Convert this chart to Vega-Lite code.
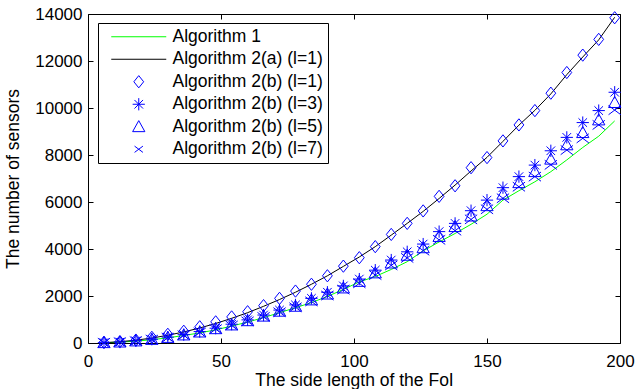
{
  "$schema": "https://vega.github.io/schema/vega-lite/v6.json",
  "width": 532,
  "height": 329,
  "autosize": {"type": "none"},
  "padding": {"left": 88, "top": 14, "right": 16, "bottom": 46},
  "background": "white",
  "config": {
    "view": {"stroke": "black", "strokeWidth": 1},
    "font": "Liberation Sans",
    "axis": {
      "domain": false,
      "grid": false,
      "tickColor": "black",
      "tickWidth": 1,
      "tickSize": -5,
      "labelFlush": false,
      "labelFont": "Liberation Sans",
      "labelFontSize": 17,
      "labelColor": "black",
      "titleFont": "Liberation Sans",
      "titleFontSize": 17.5,
      "titleFontWeight": "normal",
      "titleColor": "black"
    },
    "legend": {
      "labelFont": "Liberation Sans",
      "labelFontSize": 17.5,
      "labelColor": "black"
    }
  },
  "data": {
    "values": [
      {"s":"Algorithm 1","x":6,"y":10},{"s":"Algorithm 1","x":12,"y":35},{"s":"Algorithm 1","x":18,"y":80},{"s":"Algorithm 1","x":24,"y":140},{"s":"Algorithm 1","x":30,"y":220},{"s":"Algorithm 1","x":36,"y":320},{"s":"Algorithm 1","x":42,"y":430},{"s":"Algorithm 1","x":48,"y":560},{"s":"Algorithm 1","x":54,"y":720},{"s":"Algorithm 1","x":60,"y":890},{"s":"Algorithm 1","x":66,"y":1080},{"s":"Algorithm 1","x":72,"y":1290},{"s":"Algorithm 1","x":78,"y":1500},{"s":"Algorithm 1","x":84,"y":1720},{"s":"Algorithm 1","x":90,"y":1980},{"s":"Algorithm 1","x":96,"y":2280},{"s":"Algorithm 1","x":102,"y":2600},{"s":"Algorithm 1","x":108,"y":2830},{"s":"Algorithm 1","x":114,"y":3130},{"s":"Algorithm 1","x":120,"y":3460},{"s":"Algorithm 1","x":126,"y":3920},{"s":"Algorithm 1","x":132,"y":4300},{"s":"Algorithm 1","x":138,"y":4660},{"s":"Algorithm 1","x":144,"y":5050},{"s":"Algorithm 1","x":150,"y":5480},{"s":"Algorithm 1","x":156,"y":6080},{"s":"Algorithm 1","x":162,"y":6480},{"s":"Algorithm 1","x":168,"y":6860},{"s":"Algorithm 1","x":174,"y":7290},{"s":"Algorithm 1","x":180,"y":7790},{"s":"Algorithm 1","x":186,"y":8320},{"s":"Algorithm 1","x":192,"y":8800},{"s":"Algorithm 1","x":198,"y":9450},
      {"s":"Algorithm 2(a) (l=1)","x":6,"y":15},{"s":"Algorithm 2(a) (l=1)","x":12,"y":55},{"s":"Algorithm 2(a) (l=1)","x":18,"y":120},{"s":"Algorithm 2(a) (l=1)","x":24,"y":210},{"s":"Algorithm 2(a) (l=1)","x":30,"y":330},{"s":"Algorithm 2(a) (l=1)","x":36,"y":470},{"s":"Algorithm 2(a) (l=1)","x":42,"y":640},{"s":"Algorithm 2(a) (l=1)","x":48,"y":830},{"s":"Algorithm 2(a) (l=1)","x":54,"y":1050},{"s":"Algorithm 2(a) (l=1)","x":60,"y":1290},{"s":"Algorithm 2(a) (l=1)","x":66,"y":1560},{"s":"Algorithm 2(a) (l=1)","x":72,"y":1850},{"s":"Algorithm 2(a) (l=1)","x":78,"y":2160},{"s":"Algorithm 2(a) (l=1)","x":84,"y":2500},{"s":"Algorithm 2(a) (l=1)","x":90,"y":2860},{"s":"Algorithm 2(a) (l=1)","x":96,"y":3260},{"s":"Algorithm 2(a) (l=1)","x":102,"y":3660},{"s":"Algorithm 2(a) (l=1)","x":108,"y":4100},{"s":"Algorithm 2(a) (l=1)","x":114,"y":4590},{"s":"Algorithm 2(a) (l=1)","x":120,"y":5090},{"s":"Algorithm 2(a) (l=1)","x":126,"y":5600},{"s":"Algorithm 2(a) (l=1)","x":132,"y":6150},{"s":"Algorithm 2(a) (l=1)","x":138,"y":6720},{"s":"Algorithm 2(a) (l=1)","x":144,"y":7320},{"s":"Algorithm 2(a) (l=1)","x":150,"y":7900},{"s":"Algorithm 2(a) (l=1)","x":156,"y":8580},{"s":"Algorithm 2(a) (l=1)","x":162,"y":9270},{"s":"Algorithm 2(a) (l=1)","x":168,"y":9900},{"s":"Algorithm 2(a) (l=1)","x":174,"y":10600},{"s":"Algorithm 2(a) (l=1)","x":180,"y":11420},{"s":"Algorithm 2(a) (l=1)","x":186,"y":12170},{"s":"Algorithm 2(a) (l=1)","x":192,"y":12900},{"s":"Algorithm 2(a) (l=1)","x":198,"y":13860},
      {"s":"Algorithm 2(b) (l=1)","x":6,"y":30},{"s":"Algorithm 2(b) (l=1)","x":12,"y":60},{"s":"Algorithm 2(b) (l=1)","x":18,"y":125},{"s":"Algorithm 2(b) (l=1)","x":24,"y":240},{"s":"Algorithm 2(b) (l=1)","x":30,"y":370},{"s":"Algorithm 2(b) (l=1)","x":36,"y":500},{"s":"Algorithm 2(b) (l=1)","x":42,"y":690},{"s":"Algorithm 2(b) (l=1)","x":48,"y":900},{"s":"Algorithm 2(b) (l=1)","x":54,"y":1110},{"s":"Algorithm 2(b) (l=1)","x":60,"y":1330},{"s":"Algorithm 2(b) (l=1)","x":66,"y":1590},{"s":"Algorithm 2(b) (l=1)","x":72,"y":1900},{"s":"Algorithm 2(b) (l=1)","x":78,"y":2210},{"s":"Algorithm 2(b) (l=1)","x":84,"y":2500},{"s":"Algorithm 2(b) (l=1)","x":90,"y":2860},{"s":"Algorithm 2(b) (l=1)","x":96,"y":3270},{"s":"Algorithm 2(b) (l=1)","x":102,"y":3630},{"s":"Algorithm 2(b) (l=1)","x":108,"y":4100},{"s":"Algorithm 2(b) (l=1)","x":114,"y":4620},{"s":"Algorithm 2(b) (l=1)","x":120,"y":5090},{"s":"Algorithm 2(b) (l=1)","x":126,"y":5620},{"s":"Algorithm 2(b) (l=1)","x":132,"y":6240},{"s":"Algorithm 2(b) (l=1)","x":138,"y":6690},{"s":"Algorithm 2(b) (l=1)","x":144,"y":7460},{"s":"Algorithm 2(b) (l=1)","x":150,"y":7890},{"s":"Algorithm 2(b) (l=1)","x":156,"y":8600},{"s":"Algorithm 2(b) (l=1)","x":162,"y":9280},{"s":"Algorithm 2(b) (l=1)","x":168,"y":9890},{"s":"Algorithm 2(b) (l=1)","x":174,"y":10630},{"s":"Algorithm 2(b) (l=1)","x":180,"y":11510},{"s":"Algorithm 2(b) (l=1)","x":186,"y":12250},{"s":"Algorithm 2(b) (l=1)","x":192,"y":12920},{"s":"Algorithm 2(b) (l=1)","x":198,"y":13840},
      {"s":"Algorithm 2(b) (l=3)","x":6,"y":15},{"s":"Algorithm 2(b) (l=3)","x":12,"y":40},{"s":"Algorithm 2(b) (l=3)","x":18,"y":90},{"s":"Algorithm 2(b) (l=3)","x":24,"y":160},{"s":"Algorithm 2(b) (l=3)","x":30,"y":250},{"s":"Algorithm 2(b) (l=3)","x":36,"y":355},{"s":"Algorithm 2(b) (l=3)","x":42,"y":485},{"s":"Algorithm 2(b) (l=3)","x":48,"y":630},{"s":"Algorithm 2(b) (l=3)","x":54,"y":800},{"s":"Algorithm 2(b) (l=3)","x":60,"y":985},{"s":"Algorithm 2(b) (l=3)","x":66,"y":1190},{"s":"Algorithm 2(b) (l=3)","x":72,"y":1400},{"s":"Algorithm 2(b) (l=3)","x":78,"y":1620},{"s":"Algorithm 2(b) (l=3)","x":84,"y":1900},{"s":"Algorithm 2(b) (l=3)","x":90,"y":2160},{"s":"Algorithm 2(b) (l=3)","x":96,"y":2430},{"s":"Algorithm 2(b) (l=3)","x":102,"y":2720},{"s":"Algorithm 2(b) (l=3)","x":108,"y":3100},{"s":"Algorithm 2(b) (l=3)","x":114,"y":3530},{"s":"Algorithm 2(b) (l=3)","x":120,"y":3880},{"s":"Algorithm 2(b) (l=3)","x":126,"y":4210},{"s":"Algorithm 2(b) (l=3)","x":132,"y":4740},{"s":"Algorithm 2(b) (l=3)","x":138,"y":5090},{"s":"Algorithm 2(b) (l=3)","x":144,"y":5630},{"s":"Algorithm 2(b) (l=3)","x":150,"y":6080},{"s":"Algorithm 2(b) (l=3)","x":156,"y":6610},{"s":"Algorithm 2(b) (l=3)","x":162,"y":7080},{"s":"Algorithm 2(b) (l=3)","x":168,"y":7570},{"s":"Algorithm 2(b) (l=3)","x":174,"y":8180},{"s":"Algorithm 2(b) (l=3)","x":180,"y":8750},{"s":"Algorithm 2(b) (l=3)","x":186,"y":9380},{"s":"Algorithm 2(b) (l=3)","x":192,"y":9890},{"s":"Algorithm 2(b) (l=3)","x":198,"y":10670},
      {"s":"Algorithm 2(b) (l=5)","x":6,"y":12},{"s":"Algorithm 2(b) (l=5)","x":12,"y":38},{"s":"Algorithm 2(b) (l=5)","x":18,"y":85},{"s":"Algorithm 2(b) (l=5)","x":24,"y":150},{"s":"Algorithm 2(b) (l=5)","x":30,"y":235},{"s":"Algorithm 2(b) (l=5)","x":36,"y":340},{"s":"Algorithm 2(b) (l=5)","x":42,"y":465},{"s":"Algorithm 2(b) (l=5)","x":48,"y":605},{"s":"Algorithm 2(b) (l=5)","x":54,"y":765},{"s":"Algorithm 2(b) (l=5)","x":60,"y":945},{"s":"Algorithm 2(b) (l=5)","x":66,"y":1140},{"s":"Algorithm 2(b) (l=5)","x":72,"y":1350},{"s":"Algorithm 2(b) (l=5)","x":78,"y":1560},{"s":"Algorithm 2(b) (l=5)","x":84,"y":1830},{"s":"Algorithm 2(b) (l=5)","x":90,"y":2080},{"s":"Algorithm 2(b) (l=5)","x":96,"y":2340},{"s":"Algorithm 2(b) (l=5)","x":102,"y":2620},{"s":"Algorithm 2(b) (l=5)","x":108,"y":2980},{"s":"Algorithm 2(b) (l=5)","x":114,"y":3400},{"s":"Algorithm 2(b) (l=5)","x":120,"y":3730},{"s":"Algorithm 2(b) (l=5)","x":126,"y":4050},{"s":"Algorithm 2(b) (l=5)","x":132,"y":4530},{"s":"Algorithm 2(b) (l=5)","x":138,"y":4950},{"s":"Algorithm 2(b) (l=5)","x":144,"y":5400},{"s":"Algorithm 2(b) (l=5)","x":150,"y":5840},{"s":"Algorithm 2(b) (l=5)","x":156,"y":6330},{"s":"Algorithm 2(b) (l=5)","x":162,"y":6820},{"s":"Algorithm 2(b) (l=5)","x":168,"y":7290},{"s":"Algorithm 2(b) (l=5)","x":174,"y":7820},{"s":"Algorithm 2(b) (l=5)","x":180,"y":8430},{"s":"Algorithm 2(b) (l=5)","x":186,"y":8950},{"s":"Algorithm 2(b) (l=5)","x":192,"y":9490},{"s":"Algorithm 2(b) (l=5)","x":198,"y":10230},
      {"s":"Algorithm 2(b) (l=7)","x":6,"y":11},{"s":"Algorithm 2(b) (l=7)","x":12,"y":36},{"s":"Algorithm 2(b) (l=7)","x":18,"y":82},{"s":"Algorithm 2(b) (l=7)","x":24,"y":145},{"s":"Algorithm 2(b) (l=7)","x":30,"y":228},{"s":"Algorithm 2(b) (l=7)","x":36,"y":330},{"s":"Algorithm 2(b) (l=7)","x":42,"y":450},{"s":"Algorithm 2(b) (l=7)","x":48,"y":590},{"s":"Algorithm 2(b) (l=7)","x":54,"y":745},{"s":"Algorithm 2(b) (l=7)","x":60,"y":920},{"s":"Algorithm 2(b) (l=7)","x":66,"y":1110},{"s":"Algorithm 2(b) (l=7)","x":72,"y":1310},{"s":"Algorithm 2(b) (l=7)","x":78,"y":1520},{"s":"Algorithm 2(b) (l=7)","x":84,"y":1770},{"s":"Algorithm 2(b) (l=7)","x":90,"y":2020},{"s":"Algorithm 2(b) (l=7)","x":96,"y":2270},{"s":"Algorithm 2(b) (l=7)","x":102,"y":2540},{"s":"Algorithm 2(b) (l=7)","x":108,"y":2890},{"s":"Algorithm 2(b) (l=7)","x":114,"y":3300},{"s":"Algorithm 2(b) (l=7)","x":120,"y":3620},{"s":"Algorithm 2(b) (l=7)","x":126,"y":3930},{"s":"Algorithm 2(b) (l=7)","x":132,"y":4390},{"s":"Algorithm 2(b) (l=7)","x":138,"y":4780},{"s":"Algorithm 2(b) (l=7)","x":144,"y":5260},{"s":"Algorithm 2(b) (l=7)","x":150,"y":5690},{"s":"Algorithm 2(b) (l=7)","x":156,"y":6160},{"s":"Algorithm 2(b) (l=7)","x":162,"y":6650},{"s":"Algorithm 2(b) (l=7)","x":168,"y":7080},{"s":"Algorithm 2(b) (l=7)","x":174,"y":7580},{"s":"Algorithm 2(b) (l=7)","x":180,"y":8210},{"s":"Algorithm 2(b) (l=7)","x":186,"y":8710},{"s":"Algorithm 2(b) (l=7)","x":192,"y":9280},{"s":"Algorithm 2(b) (l=7)","x":198,"y":9910}
    ]
  },
  "layer": [
    {
      "transform": [{"filter": {"field": "s", "oneOf": ["Algorithm 1", "Algorithm 2(a) (l=1)"]}}],
      "mark": {"type": "line", "strokeWidth": 1},
      "encoding": {
        "x": {"field": "x", "type": "quantitative", "scale": {"domain": [0, 200], "nice": false},
          "axis": {"orient": "bottom", "values": [0, 50, 100, 150, 200], "labelPadding": 15, "title": "The side length of the FoI", "titleBaseline": "alphabetic", "titleY": 42}},
        "y": {"field": "y", "type": "quantitative", "scale": {"domain": [0, 14000], "nice": false},
          "axis": {"orient": "left", "values": [0, 2000, 4000, 6000, 8000, 10000, 12000, 14000], "format": "d", "labelPadding": 11, "title": "The number of sensors", "titleX": -75, "titleY": 164.5, "titleAngle": 270, "titleAlign": "center", "titleBaseline": "middle"}},
        "color": {"field": "s", "type": "nominal",
          "scale": {"domain": ["Algorithm 1", "Algorithm 2(a) (l=1)", "Algorithm 2(b) (l=1)", "Algorithm 2(b) (l=3)", "Algorithm 2(b) (l=5)", "Algorithm 2(b) (l=7)"], "range": ["#00ff00", "#000000", "#0000ff", "#0000ff", "#0000ff", "#0000ff"]},
          "legend": {"title": null, "orient": "none", "legendX": 10, "legendY": 9, "fillColor": "white", "strokeColor": "black", "padding": 5, "symbolOffset": 27, "labelOffset": 25, "symbolSize": 150, "symbolStrokeWidth": 1, "rowPadding": 3.5, "cornerRadius": 0,
            "encode": {"symbols": {"update": {"size": {"signal": "datum.value === 'Algorithm 1' || datum.value === 'Algorithm 2(a) (l=1)' ? 3025 : datum.value === 'Algorithm 2(b) (l=7)' ? 70 : 150"}}}}}}
      }
    },
    {
      "transform": [{"filter": {"field": "s", "oneOf": ["Algorithm 2(b) (l=1)", "Algorithm 2(b) (l=3)", "Algorithm 2(b) (l=5)", "Algorithm 2(b) (l=7)"]}}],
      "mark": {"type": "point", "filled": false, "strokeWidth": 1, "opacity": 1},
      "encoding": {
        "x": {"field": "x", "type": "quantitative", "scale": {"domain": [0, 200], "nice": false},
          "axis": {"orient": "top", "values": [0, 50, 100, 150, 200], "labels": false, "title": null}},
        "y": {"field": "y", "type": "quantitative", "scale": {"domain": [0, 14000], "nice": false},
          "axis": {"orient": "right", "values": [0, 2000, 4000, 6000, 8000, 10000, 12000, 14000], "labels": false, "title": null}},
        "color": {"field": "s", "type": "nominal",
          "legend": {"title": null, "orient": "none", "legendX": 10, "legendY": 9, "fillColor": "white", "strokeColor": "black", "padding": 5, "symbolOffset": 27, "labelOffset": 25, "symbolSize": 150, "symbolStrokeWidth": 1, "rowPadding": 3.5, "cornerRadius": 0,
            "encode": {"symbols": {"update": {"size": {"signal": "datum.value === 'Algorithm 1' || datum.value === 'Algorithm 2(a) (l=1)' ? 3025 : datum.value === 'Algorithm 2(b) (l=7)' ? 70 : 150"}}}}}},
        "shape": {"field": "s", "type": "nominal",
          "scale": {"domain": ["Algorithm 1", "Algorithm 2(a) (l=1)", "Algorithm 2(b) (l=1)", "Algorithm 2(b) (l=3)", "Algorithm 2(b) (l=5)", "Algorithm 2(b) (l=7)"],
            "range": ["stroke", "stroke", "M0,-1L0.8,0L0,1L-0.8,0Z", "M-1,0L1,0M0,-1L0,1M-0.7,-0.7L0.7,0.7M-0.7,0.7L0.7,-0.7", "M0,-1L1,0.8L-1,0.8Z", "M-1,-0.75L1,0.75M-1,0.75L1,-0.75"]},
          "legend": {"title": null, "orient": "none", "legendX": 10, "legendY": 9, "fillColor": "white", "strokeColor": "black", "padding": 5, "symbolOffset": 27, "labelOffset": 25, "symbolSize": 150, "symbolStrokeWidth": 1, "rowPadding": 3.5, "cornerRadius": 0,
            "encode": {"symbols": {"update": {"size": {"signal": "datum.value === 'Algorithm 1' || datum.value === 'Algorithm 2(a) (l=1)' ? 3025 : datum.value === 'Algorithm 2(b) (l=7)' ? 70 : 150"}}}}}},
        "size": {"value": 150}
      }
    }
  ],
  "resolve": {"axis": {"x": "independent", "y": "independent"}}
}
